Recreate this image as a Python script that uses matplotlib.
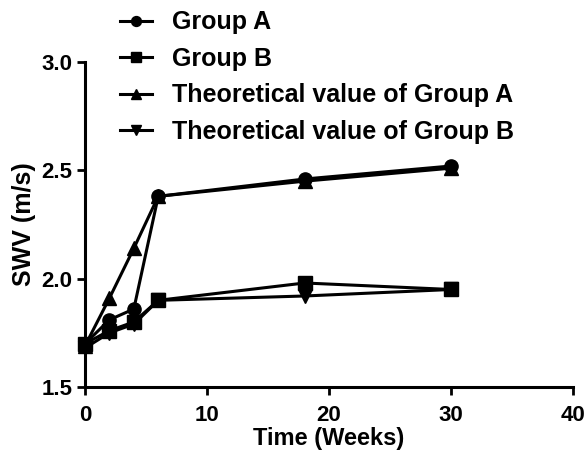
import matplotlib
matplotlib.use("Agg")
import matplotlib.pyplot as plt

plt.rcParams['font.family'] = ['Liberation Sans', 'DejaVu Sans']
plt.rcParams['font.weight'] = 'bold'

# data
weeks = [0, 2, 4, 6, 18, 30]
group_a = [1.70, 1.81, 1.86, 2.38, 2.46, 2.52]
group_b = [1.70, 1.76, 1.80, 1.90, 1.98, 1.95]
theo_a = [1.69, 1.91, 2.14, 2.38, 2.45, 2.51]
theo_b = [1.68, 1.75, 1.79, 1.90, 1.92, 1.95]

fig = plt.figure(figsize=(5.88, 4.55), dpi=100)
ax = fig.add_axes([0.1446, 0.1495, 0.83, 0.7142])

kw = dict(color='black', linewidth=2.2, markersize=9.5)
ax.plot(weeks, group_a, marker='o', label='Group A', **kw)
ax.plot(weeks, group_b, marker='s', label='Group B', **kw)
ax.plot(weeks, theo_a, marker='^', label='Theoretical value of Group A', **kw)
ax.plot(weeks, theo_b, marker='v', label='Theoretical value of Group B', **kw)

ax.set_xlim(0, 40)
ax.set_ylim(1.5, 3.0)
ax.set_xticks([0, 10, 20, 30, 40])
ax.set_yticks([1.5, 2.0, 2.5, 3.0])
ax.set_yticklabels(['1.5', '2.0', '2.5', '3.0'])

for s in ['top', 'right']:
    ax.spines[s].set_visible(False)
for s in ['left', 'bottom']:
    ax.spines[s].set_linewidth(2.2)
ax.tick_params(width=2.0, length=6, labelsize=16)
ax.tick_params(axis='x', pad=7)
ax.tick_params(axis='y', pad=3)
for ln in ax.lines:
    ln.set_clip_on(False)

ax.set_xlabel('Time (Weeks)', fontsize=17, fontweight='bold', labelpad=1)
ax.set_ylabel('SWV (m/s)', fontsize=18, fontweight='bold', labelpad=4)

fig.legend(loc='upper left', bbox_to_anchor=(0.204, 0.977), frameon=False,
           handlelength=1.3, handletextpad=0.8, labelspacing=0.5,
           borderaxespad=0, borderpad=0, markerscale=0.75,
           prop={'weight': 'bold', 'size': 18})

fig.savefig('out.png', dpi=100)
